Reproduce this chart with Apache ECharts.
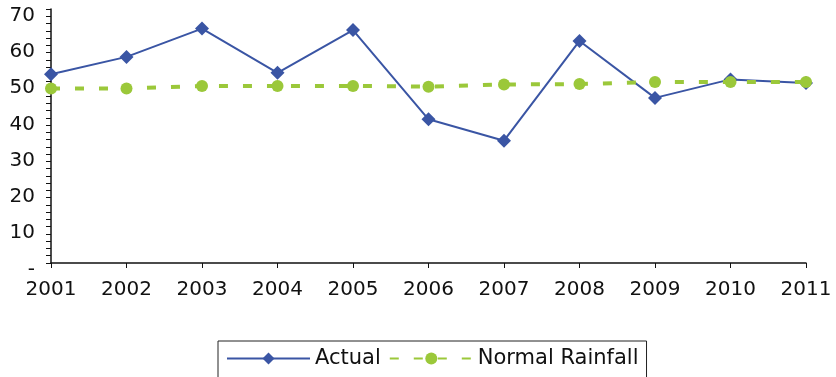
<!DOCTYPE html>
<html>
<head>
<meta charset="utf-8">
<script src="https://cdn.jsdelivr.net/npm/echarts@6/dist/echarts.min.js"></script>
<style>
  html, body { margin: 0; padding: 0; background: #fff; }
  #chart { width: 836px; height: 377px; }
</style>
</head>
<body>
<div id="chart"></div>
<script>
// Annual rainfall, 2001-2011
const years = ['2001', '2002', '2003', '2004', '2005', '2006', '2007', '2008', '2009', '2010', '2011'];
const actual = [52.0, 56.8, 64.6, 52.4, 64.2, 39.6, 33.7, 61.2, 45.5, 50.6, 49.6];
const normalRainfall = [48.1, 48.1, 48.8, 48.8, 48.8, 48.6, 49.2, 49.3, 49.9, 49.9, 49.9];
const yTicks = [0, 10, 20, 30, 40, 50, 60, 70];

const FONT = 'DejaVu Sans';
const chart = echarts.init(document.getElementById('chart'), null, { renderer: 'canvas' });

chart.setOption({
  animation: false,
  backgroundColor: '#ffffff',
  grid: { left: 51, right: 30, top: 9, bottom: 114, containLabel: false },
  legend: {
    left: 218,
    top: 341,
    orient: 'horizontal',
    itemWidth: 83,
    itemHeight: 15,
    itemGap: 8,
    padding: [7, 8, 14, 8],
    borderColor: '#222',
    borderWidth: 1,
    textStyle: { fontFamily: FONT, fontSize: 21, color: '#111' },
    data: ['Actual', 'Normal Rainfall']
  },
  xAxis: {
    type: 'category',
    data: years,
    boundaryGap: false,
    axisLine: { lineStyle: { color: '#111', width: 1.5 } },
    axisTick: { show: true, length: 5, alignWithLabel: true, lineStyle: { color: '#111' } },
    axisLabel: { fontFamily: FONT, fontSize: 20, color: '#111', margin: 17, interval: 0 },
    splitLine: { show: false }
  },
  yAxis: {
    type: 'value',
    min: yTicks[0],
    max: yTicks[yTicks.length - 1],
    interval: 10,
    axisLine: { show: true, lineStyle: { color: '#111', width: 1.5 } },
    axisTick: { show: true, length: 5, lineStyle: { color: '#111' } },
    minorTick: { show: true, splitNumber: 5, length: 5, lineStyle: { color: '#111' } },
    splitLine: { show: false },
    axisLabel: {
      fontFamily: FONT,
      fontSize: 20,
      color: '#111',
      margin: 16,
      verticalAlign: 'top',
      lineHeight: 13,
      formatter: v => (v === 0 ? '-' : String(v))
    }
  },
  series: [
    {
      name: 'Actual',
      type: 'line',
      data: actual,
      symbol: 'diamond',
      symbolSize: 14,
      itemStyle: { color: '#3A55A4' },
      lineStyle: { color: '#3A55A4', width: 2 },
      z: 2
    },
    {
      name: 'Normal Rainfall',
      type: 'line',
      data: normalRainfall,
      symbol: 'circle',
      symbolSize: 12,
      itemStyle: { color: '#9BC83A' },
      lineStyle: { color: '#9BC83A', width: 4, type: [9, 15], dashOffset: 0 },
      z: 3
    }
  ]
});
</script>
</body>
</html>
